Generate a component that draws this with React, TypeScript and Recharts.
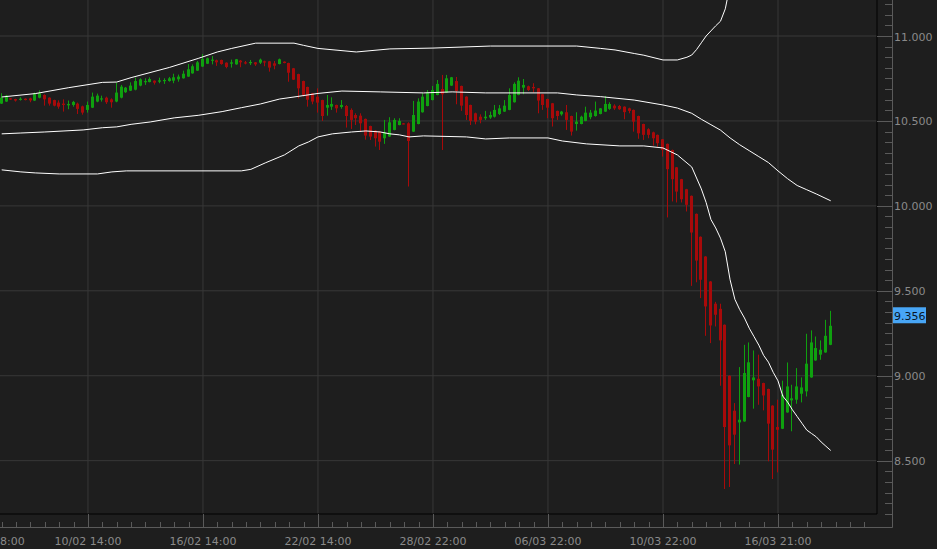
import React from 'react';
import { ComposedChart, Bar, Line, XAxis, YAxis, ReferenceLine, CartesianGrid } from 'recharts';

// ---- candle data (4h bars) ----
const opens = [
  10.602,10.614,10.633,10.629,10.627,10.631,10.633,10.620,10.637,10.653,
  10.637,10.623,10.608,10.602,10.592,10.594,10.602,10.586,10.565,10.578,
  10.614,10.627,10.637,10.627,10.614,10.637,10.669,10.678,10.684,10.708,
  10.729,10.729,10.737,10.731,10.735,10.735,10.737,10.745,10.751,10.761,
  10.780,10.796,10.820,10.837,10.857,10.857,10.859,10.843,10.837,10.833,
  10.855,10.845,10.841,10.845,10.843,10.851,10.851,10.839,10.835,10.849,
  10.841,10.810,10.776,10.735,10.700,10.663,10.643,10.623,10.578,10.584,
  10.594,10.582,10.588,10.565,10.535,10.531,10.512,10.470,10.443,10.437,
  10.398,10.408,10.447,10.476,10.486,10.486,10.437,10.482,10.551,10.588,
  10.623,10.653,10.688,10.667,10.708,10.735,10.706,10.643,10.594,10.545,
  10.525,10.516,10.520,10.525,10.541,10.555,10.565,10.610,10.653,10.696,
  10.704,10.700,10.692,10.657,10.629,10.604,10.559,10.539,10.551,10.529,
  10.482,10.482,10.500,10.522,10.529,10.541,10.555,10.571,10.590,10.588,
  10.584,10.574,10.565,10.529,10.482,10.451,10.433,10.418,10.392,10.365,
  10.329,10.227,10.157,10.098,10.059,9.953,9.818,9.702,9.555,9.424,
  9.394,9.300,9.000,8.794,8.725,8.731,8.875,8.973,8.982,8.957,
  8.922,8.824,8.698,8.688,8.784,8.855,8.859,8.894,8.908,8.990,
  9.090,9.124,9.137,9.182,
];
const highs = [
  10.663,10.653,10.635,10.631,10.639,10.633,10.637,10.667,10.680,10.657,
  10.639,10.625,10.621,10.627,10.620,10.618,10.608,10.590,10.614,10.667,
  10.661,10.649,10.643,10.633,10.725,10.712,10.700,10.727,10.755,10.751,
  10.751,10.757,10.739,10.755,10.751,10.759,10.778,10.773,10.796,10.835,
  10.833,10.853,10.894,10.873,10.882,10.861,10.861,10.845,10.861,10.865,
  10.859,10.853,10.859,10.847,10.867,10.855,10.853,10.853,10.867,10.851,
  10.843,10.812,10.778,10.737,10.702,10.665,10.692,10.625,10.653,10.639,
  10.596,10.623,10.594,10.574,10.545,10.545,10.514,10.472,10.445,10.439,
  10.506,10.522,10.516,10.516,10.488,10.492,10.618,10.633,10.663,10.682,
  10.706,10.741,10.771,10.771,10.759,10.759,10.708,10.645,10.596,10.549,
  10.539,10.559,10.555,10.594,10.594,10.623,10.692,10.727,10.757,10.747,
  10.708,10.722,10.694,10.659,10.631,10.606,10.561,10.559,10.594,10.531,
  10.551,10.531,10.584,10.565,10.614,10.576,10.647,10.610,10.598,10.594,
  10.586,10.578,10.567,10.531,10.484,10.457,10.437,10.420,10.394,10.367,
  10.331,10.229,10.159,10.100,10.061,9.955,9.820,9.704,9.557,9.435,
  9.424,9.302,9.002,8.839,9.051,9.182,9.196,9.149,9.124,8.959,
  8.924,8.826,8.859,8.971,9.078,8.947,9.045,8.990,9.247,9.267,
  9.231,9.208,9.329,9.382,
];
const lows = [
  10.600,10.612,10.625,10.614,10.620,10.621,10.610,10.618,10.633,10.590,
  10.590,10.586,10.572,10.555,10.569,10.584,10.541,10.537,10.549,10.576,
  10.610,10.614,10.600,10.578,10.610,10.633,10.665,10.676,10.680,10.704,
  10.712,10.727,10.714,10.722,10.718,10.731,10.722,10.731,10.749,10.759,
  10.778,10.794,10.818,10.835,10.833,10.824,10.831,10.810,10.814,10.831,
  10.816,10.833,10.829,10.824,10.835,10.822,10.790,10.804,10.833,10.839,
  10.731,10.741,10.633,10.643,10.584,10.598,10.549,10.500,10.531,10.565,
  10.549,10.572,10.461,10.453,10.476,10.437,10.390,10.388,10.349,10.329,
  10.365,10.406,10.445,10.474,10.480,10.114,10.435,10.480,10.549,10.586,
  10.621,10.651,10.329,10.665,10.706,10.598,10.559,10.506,10.476,10.480,
  10.486,10.506,10.512,10.520,10.535,10.553,10.563,10.608,10.651,10.657,
  10.676,10.667,10.545,10.565,10.516,10.467,10.506,10.531,10.447,10.414,
  10.443,10.480,10.498,10.510,10.525,10.539,10.553,10.565,10.565,10.565,
  10.510,10.545,10.437,10.395,10.388,10.398,10.355,10.349,10.290,9.932,
  10.026,10.020,10.020,9.967,9.529,9.550,9.457,9.235,9.192,9.290,
  8.941,8.333,8.345,8.480,8.477,8.729,8.873,8.806,8.829,8.796,
  8.496,8.392,8.431,8.686,8.782,8.673,8.835,8.843,8.878,8.988,
  9.088,9.094,9.135,9.180,
];
const closes = [
  10.637,10.649,10.627,10.620,10.631,10.623,10.621,10.663,10.663,10.627,
  10.602,10.590,10.584,10.594,10.600,10.612,10.571,10.549,10.594,10.643,
  10.649,10.633,10.610,10.610,10.667,10.702,10.696,10.708,10.735,10.745,
  10.735,10.747,10.725,10.739,10.741,10.751,10.757,10.761,10.778,10.804,
  10.822,10.845,10.865,10.869,10.861,10.845,10.835,10.818,10.845,10.863,
  10.845,10.839,10.847,10.833,10.861,10.845,10.814,10.825,10.863,10.841,
  10.784,10.743,10.692,10.653,10.625,10.614,10.608,10.529,10.594,10.600,
  10.574,10.594,10.529,10.506,10.516,10.486,10.414,10.408,10.398,10.378,
  10.431,10.492,10.506,10.500,10.482,10.382,10.535,10.614,10.643,10.667,
  10.682,10.718,10.657,10.751,10.757,10.676,10.590,10.535,10.500,10.496,
  10.506,10.525,10.535,10.565,10.574,10.590,10.653,10.718,10.737,10.712,
  10.682,10.692,10.620,10.594,10.578,10.516,10.529,10.555,10.506,10.437,
  10.496,10.525,10.549,10.549,10.561,10.574,10.600,10.600,10.574,10.569,
  10.552,10.559,10.496,10.427,10.418,10.418,10.398,10.369,10.329,10.216,
  10.157,10.084,10.039,10.006,9.843,9.678,9.565,9.408,9.296,9.359,
  9.208,8.698,8.590,8.653,8.741,9.016,9.079,8.990,8.937,8.884,
  8.718,8.565,8.682,8.888,8.937,8.867,8.937,8.931,9.071,9.196,
  9.163,9.153,9.235,9.294,
];

// ---- Bollinger bands: [candle index, value] ----
const upperBand: [number, number][] = [
  [0,10.641],[7,10.661],[14,10.696],[21,10.727],[24,10.729],[27,10.755],[35,10.815],[41,10.868],
  [45,10.906],[48,10.927],[53,10.958],[61,10.958],[63,10.945],[66,10.927],[74,10.906],[81,10.924],
  [90,10.929],[102,10.941],[120,10.941],[125,10.927],[128,10.918],[132,10.897],[134,10.887],
  [138,10.859],[141,10.859],[143,10.875],[144,10.888],[145,10.92],[146,10.96],[147,11.0],
  [148,11.03],[149,11.06],[150,11.087],[151,11.16],[152,11.3],[153,11.42],[156,11.6],[160,11.72],
  [165,11.75],[170,11.62],[173,11.52],
];
const middleBand: [number, number][] = [
  [0,10.424],[4,10.429],[9,10.435],[13,10.441],[17,10.447],[21,10.46],[24,10.465],[27,10.48],
  [31,10.494],[36,10.518],[41,10.533],[46,10.555],[50,10.578],[54,10.6],[58,10.629],[61,10.641],
  [66,10.662],[71,10.676],[79,10.671],[88,10.665],[94,10.671],[101,10.665],[116,10.665],
  [120,10.653],[125,10.643],[132,10.623],[138,10.594],[141,10.576],[144,10.545],[146,10.51],
  [148,10.478],[150,10.446],[152,10.40],[154,10.36],[156,10.325],[158,10.29],[160,10.255],
  [162,10.206],[164,10.16],[166,10.12],[168,10.095],[170,10.07],[173,10.03],
];
const lowerBand: [number, number][] = [
  [0,10.212],[4,10.2],[7,10.194],[12,10.188],[20,10.188],[23,10.2],[26,10.206],[50,10.206],
  [52,10.215],[55,10.253],[59,10.3],[62,10.353],[64,10.376],[66,10.406],[69,10.424],[73,10.435],
  [76,10.441],[79,10.435],[81,10.424],[83,10.418],[85,10.406],[88,10.412],[97,10.406],[101,10.394],
  [106,10.4],[114,10.4],[117,10.382],[122,10.365],[129,10.353],[134,10.353],[138,10.341],[141,10.3],
  [144,10.229],[146,10.1],[147,10.02],[148,9.92],[149,9.87],[150,9.81],[151,9.73],[152,9.565],
  [153,9.45],[154,9.39],[155,9.34],[156,9.28],[157,9.23],[158,9.18],[159,9.12],[160,9.08],
  [161,9.02],[162,8.97],[163,8.88],[164,8.845],[165,8.80],[166,8.76],[167,8.72],[168,8.68],
  [169,8.66],[170,8.64],[171,8.61],[172,8.585],[173,8.56],
];

// ---- axes ----
const xLabelIndex = [18, 42, 66, 90, 114, 138, 162];
const xLabelText = ['10/02 14:00', '16/02 14:00', '22/02 14:00', '28/02 22:00', '06/03 22:00', '10/03 22:00', '16/03 21:00'];
const leftCutLabel = '04/02 18:00';
const yLabelValues = [8.5, 9, 9.5, 10, 10.5, 11];
const lastPrice = 9.356;

const X_MIN = -0.355;
const X_MAX = 182.66;
const Y_MIN = 8.186;
const Y_MAX = 11.212;

const xTicks: number[] = [];
for (let t = 0; t <= 180; t += 3) xTicks.push(t);
const yTicks: number[] = [];
for (let k = 0; k <= 48; k++) yTicks.push(8.1875 + k * 0.0625);

const BG = '#1e1e1e';
const GRID = '#383838';
const AXIS = '#5a5a5a';
const TEXT = '#8a8a8a';
const GREEN = '#0fa00f';
const RED = '#a80a0a';
const FONT = 'DejaVu Sans, Verdana, sans-serif';

const candles = opens.map((o, i) => ({
  i, o, h: highs[i], l: lows[i], c: closes[i], range: [lows[i], highs[i]],
}));
const toPts = (arr: [number, number][]) => arr.map(([i, v]) => ({ i, v }));

const Candle = (props: any) => {
  const { x, y, width, height, payload } = props;
  if (payload == null || height == null) return null;
  const { o, h, l, c } = payload;
  const cx = Math.round(x + width / 2) - 0.5;
  const pix = (v: number) => y + (height * (h - v)) / (h - l);
  const color = c >= o ? GREEN : RED;
  const top = pix(Math.max(o, c));
  const bot = pix(Math.min(o, c));
  const bh = Math.max(1.2, bot - top);
  return (
    <g>
      <line x1={cx} x2={cx} y1={y} y2={y + height} stroke={color} strokeWidth={1} />
      <rect x={cx - 1.5} y={top} width={3} height={bh} fill={color} />
    </g>
  );
};

const YTick = (props: any) => {
  const { x, y, payload } = props;
  const v = payload.value;
  const major = yLabelValues.some((m) => Math.abs(m - v) < 1e-6);
  const yy = Math.round(y) + 0.5;
  return (
    <g>
      <line x1={major ? x : x + 8} x2={x + 15} y1={yy} y2={yy} stroke={AXIS} />
      {major && (
        <text x={x + 17} y={y} dy={4.5} fill={TEXT} fontSize={11} fontFamily={FONT}>
          {v.toFixed(3)}
        </text>
      )}
    </g>
  );
};

const XTick = (props: any) => {
  const { x, y, payload } = props;
  const v = payload.value;
  const idx = xLabelIndex.indexOf(v);
  const xx = Math.round(x) + 0.5;
  return (
    <g>
      <line x1={xx} x2={xx} y1={idx >= 0 ? y : y + 8} y2={y + 13} stroke={AXIS} />
      {idx >= 0 && (
        <text x={x} y={y + 31} textAnchor="middle" fill={TEXT} fontSize={11} fontFamily={FONT}>
          {xLabelText[idx]}
        </text>
      )}
      {v === 0 && (
        <text x={x + 23} y={y + 31} textAnchor="end" fill={TEXT} fontSize={11} fontFamily={FONT}>
          {leftCutLabel}
        </text>
      )}
    </g>
  );
};

const PriceTag = (props: any) => {
  const vb = props.viewBox || {};
  const x0 = (vb.x || 0) + (vb.width || 0) + 15;
  const y0 = vb.y || 0;
  return (
    <g>
      <rect x={x0} y={y0 - 8} width={34} height={16} fill="#48a6f6" />
      <text x={x0 + 2} y={y0} dy={4.5} fill="#0a1626" fontSize={11} fontFamily={FONT}>
        {lastPrice.toFixed(3)}
      </text>
    </g>
  );
};

export default function App() {
  return (
    <div style={{ position: 'absolute', left: 0, top: 0, width: 937, height: 549, background: BG }}>
      <ComposedChart
        width={937}
        height={549}
        data={candles}
        margin={{ top: 0, right: 0, bottom: 0, left: 0 }}
        style={{ background: BG }}
      >
        <CartesianGrid
          stroke={GRID}
          horizontalValues={yLabelValues}
          verticalValues={xLabelIndex}
          fill="none"
        />
        <XAxis
          type="number"
          dataKey="i"
          domain={[X_MIN, X_MAX]}
          allowDataOverflow
          ticks={xTicks}
          interval={0}
          tickSize={0}
          tickMargin={0}
          height={35}
          axisLine={{ stroke: '#000' }}
          tickLine={false}
          tick={XTick}
        />
        <YAxis
          orientation="right"
          domain={[Y_MIN, Y_MAX]}
          allowDataOverflow
          ticks={yTicks}
          interval={0}
          tickSize={0}
          tickMargin={0}
          width={60}
          axisLine={{ stroke: '#000' }}
          tickLine={false}
          tick={YTick}
        />
        <Bar dataKey="range" shape={Candle} isAnimationActive={false} barSize={3} />
        <Line data={toPts(upperBand)} dataKey="v" type="linear" stroke="#ffffff" strokeWidth={1} dot={false} activeDot={false} isAnimationActive={false} />
        <Line data={toPts(middleBand)} dataKey="v" type="linear" stroke="#ffffff" strokeWidth={1} dot={false} activeDot={false} isAnimationActive={false} />
        <Line data={toPts(lowerBand)} dataKey="v" type="linear" stroke="#ffffff" strokeWidth={1} dot={false} activeDot={false} isAnimationActive={false} />
        <ReferenceLine y={lastPrice} stroke="none" label={<PriceTag />} />
      </ComposedChart>
      <svg width={937} height={549} style={{ position: 'absolute', left: 0, top: 0, pointerEvents: 'none' }}>
        <line x1={892.5} x2={892.5} y1={0} y2={527.5} stroke={AXIS} />
        <line x1={0} x2={892.5} y1={527.5} y2={527.5} stroke={AXIS} />
      </svg>
    </div>
  );
}
